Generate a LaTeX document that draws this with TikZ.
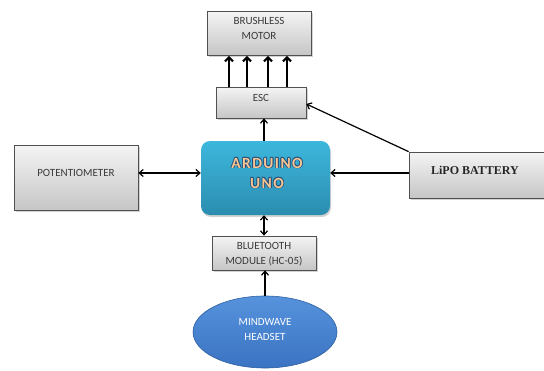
\documentclass[tikz,border=0pt]{standalone}
\usepackage{fontspec}
\setmainfont{Carlito}
\newfontfamily\serifb{Liberation Serif}
\newfontfamily\ardfont[LetterSpace=9]{Carlito}
\usetikzlibrary{arrows.meta,shadows,shapes.geometric}
\definecolor{boxtop}{HTML}{F4F4F4}
\definecolor{boxbot}{HTML}{C6C6C6}
\definecolor{boxline}{HTML}{505050}
\definecolor{ardtop}{HTML}{3DB7DC}
\definecolor{ardbot}{HTML}{2B8DB0}
\definecolor{ardtext}{HTML}{F9C592}
\definecolor{ardedge}{HTML}{24507A}
\definecolor{elltop}{HTML}{5693DC}
\definecolor{ellbot}{HTML}{3A73C2}
\definecolor{ellline}{HTML}{2F5E9E}
\definecolor{txt}{HTML}{3A3A3A}
\tikzset{
  greybox/.style={draw=boxline, line width=0.7pt, top color=boxtop, bottom color=boxbot,
    drop shadow={shadow xshift=1.5pt, shadow yshift=-1.5pt, opacity=0.35}, inner sep=0pt},
  lbl/.style={font=\fontsize{11}{15}\selectfont, text=txt, align=center, inner sep=0pt},
  ardstyle/.style={font=\ardfont\bfseries\fontsize{15.5}{20}\selectfont, align=center, inner sep=0pt},
  conn/.style={line width=1.2pt, -{Straight Barb[length=4pt,width=7pt]}},
  conn2/.style={line width=1.2pt, {Straight Barb[length=4pt,width=7pt]}-{Straight Barb[length=4pt,width=7pt]}},
  thick arrow/.style={line width=2.6pt, -{Straight Barb[length=4pt,width=8pt,line width=2.2pt]}},
}
\begin{document}
\begin{tikzpicture}[x=1pt,y=-1pt]
\useasboundingbox (0,0) rectangle (544,370);
% boxes
\node[greybox, minimum width=104pt, minimum height=44pt] (motor) at (259,33) {};
\node[lbl] (motorlbl) at (259,28) {BRUSHLESS\\MOTOR};
\node[greybox, minimum width=90pt, minimum height=31pt] (esc) at (261,102.5) {};
\node[lbl] (esclbl) at (261,98) {ESC};
\node[greybox, minimum width=124pt, minimum height=65pt] (pot) at (76,177.5) {};
\node[lbl] (potlbl) at (76,173) {POTENTIOMETER};
\node[greybox, minimum width=136pt, minimum height=46pt] (lipo) at (477,175) {};
\node[lbl, font=\serifb\bfseries\fontsize{12}{14}\selectfont, text=black!85] (lipolbl) at (475,170) {LiPO BATTERY};
\node[greybox, minimum width=104pt, minimum height=34pt] (bt) at (264,253) {};
\node[lbl] (btlbl) at (264,254) {BLUETOOTH\\MODULE (HC-05)};
% arduino
\node[draw=none, rounded corners=9pt, top color=ardtop, bottom color=ardbot,
  minimum width=129pt, minimum height=74pt,
  drop shadow={shadow xshift=1pt, shadow yshift=-2pt, opacity=0.35}] (ard) at (265.5,178) {};
\foreach \dx/\dy in {0.8/0,-0.8/0,0/0.8,0/-0.8,0.6/0.6,-0.6/0.6,0.6/-0.6,-0.6/-0.6}{
  \node[ardstyle, text=ardedge] at (267+\dx,173+\dy) {ARDUINO\\UNO};
}
\node[ardstyle, text=ardtext] (ardlbl) at (267,173) {ARDUINO\\UNO};
% ellipse
\node[ellipse, draw=ellline, line width=0.6pt, top color=elltop, bottom color=ellbot,
  minimum width=144pt, minimum height=72pt, inner sep=0pt] (mind) at (265,332) {};
\node[lbl, text=white] (mindlbl) at (265,330) {MINDWAVE\\HEADSET};
% connectors
\coordinate (ly) at (0,173);
\draw[conn2] (pot.east |- ly) -- (ard.west |- ly);
\draw[conn] (lipo.west |- ly) -- (ard.east |- ly);
\draw[conn] (lipo.north west) -- ([yshift=-1.5pt]esc.east);
\draw[conn] (ard.north -| esc.center) ++(3pt,0) coordinate (a1) -- (a1 |- esc.south);
\draw[conn2] ([xshift=-1.5pt]ard.south) coordinate (a2) -- (a2 |- bt.north);
\draw[conn] (mind.north) -- (mind.north |- bt.south);
\foreach \x in {229,247,268,287}{
  \draw[thick arrow] (esc.north -| \x,0) -- ([yshift=-0.5pt]motor.south -| \x,0);
}
\end{tikzpicture}
\end{document}
